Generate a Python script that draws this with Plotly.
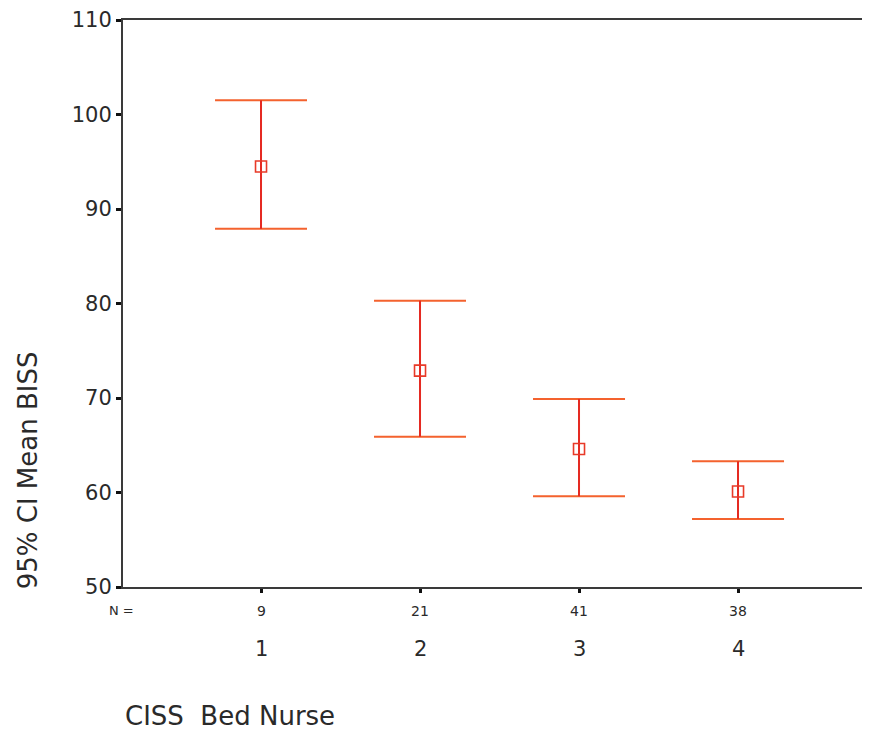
import plotly.graph_objects as go

groups = [1, 2, 3, 4]
n_values = ["9", "21", "41", "38"]
means = [94.5, 72.9, 64.6, 60.1]
upper = [101.5, 80.3, 69.9, 63.3]
lower = [87.9, 65.9, 59.6, 57.2]
y_ticks = [50, 60, 70, 80, 90, 100, 110]

err_plus = [u - m for u, m in zip(upper, means)]
err_minus = [m - l for m, l in zip(means, lower)]

FONT = "DejaVu Sans, Liberation Sans, sans-serif"
TXT = "#2a2a2a"

fig = go.Figure()

# whole error bars with caps (orange)
fig.add_trace(go.Scatter(
    x=groups, y=means, mode="markers",
    marker=dict(size=1, color="rgba(0,0,0,0)"),
    error_y=dict(type="data", symmetric=False, array=err_plus, arrayminus=err_minus,
                 color="#f4622e", thickness=2, width=46),
    showlegend=False, hoverinfo="skip",
))

# stems redrawn in red, plus the mean markers
fig.add_trace(go.Scatter(
    x=groups, y=means, mode="markers",
    marker=dict(symbol="square-open", size=11, color="#e83a28", line=dict(width=1.6)),
    error_y=dict(type="data", symmetric=False, array=err_plus, arrayminus=err_minus,
                 color="#e52a22", thickness=2, width=0),
    showlegend=False,
))

annotations = [dict(x=-0.0214, y=-0.042, xref="paper", yref="paper", text="N =",
                    showarrow=False, xanchor="left", yanchor="middle",
                    font=dict(size=13, color=TXT))]
for g, n in zip(groups, n_values):
    annotations.append(dict(x=g, y=-0.042, xref="x", yref="paper", text=n,
                            showarrow=False, yanchor="middle",
                            font=dict(size=14, color=TXT)))
    annotations.append(dict(x=g, y=-0.109, xref="x", yref="paper", text=str(g),
                            showarrow=False, yanchor="middle",
                            font=dict(size=21, color=TXT)))

annotations.append(dict(x=0, y=-0.228, xref="paper", yref="paper",
                        text="CISS  Bed Nurse", showarrow=False, xanchor="left",
                        yanchor="middle", font=dict(size=26, color=TXT)))
annotations.append(dict(x=-0.127, y=0.206, xref="paper", yref="paper",
                        text="95% CI Mean BISS", showarrow=False, textangle=-90,
                        xanchor="center", yanchor="middle",
                        font=dict(size=26, color=TXT)))

fig.update_layout(
    width=862,
    height=724,
    margin=dict(l=115, r=0, t=10, b=145),
    plot_bgcolor="white",
    paper_bgcolor="white",
    font=dict(family=FONT, color=TXT),
    annotations=annotations,
    xaxis=dict(
        range=[0.132, 4.83],
        tickvals=groups,
        showticklabels=False,
        showgrid=False,
        zeroline=False,
        showline=True,
        mirror=True,
        linecolor="#3a3a3a",
        linewidth=2,
        ticks="outside",
        ticklen=4,
        tickwidth=3,
        tickcolor="#111",
    ),
    yaxis=dict(
        range=[50, 110],
        tickvals=y_ticks,
        showgrid=False,
        zeroline=False,
        showline=True,
        linecolor="#3a3a3a",
        linewidth=2,
        ticks="outside",
        ticklen=5,
        tickwidth=3,
        tickcolor="#111",
        tickfont=dict(size=21, color=TXT),
        ticklabeloverflow="allow",
    ),
)

fig.write_html("out.html")
